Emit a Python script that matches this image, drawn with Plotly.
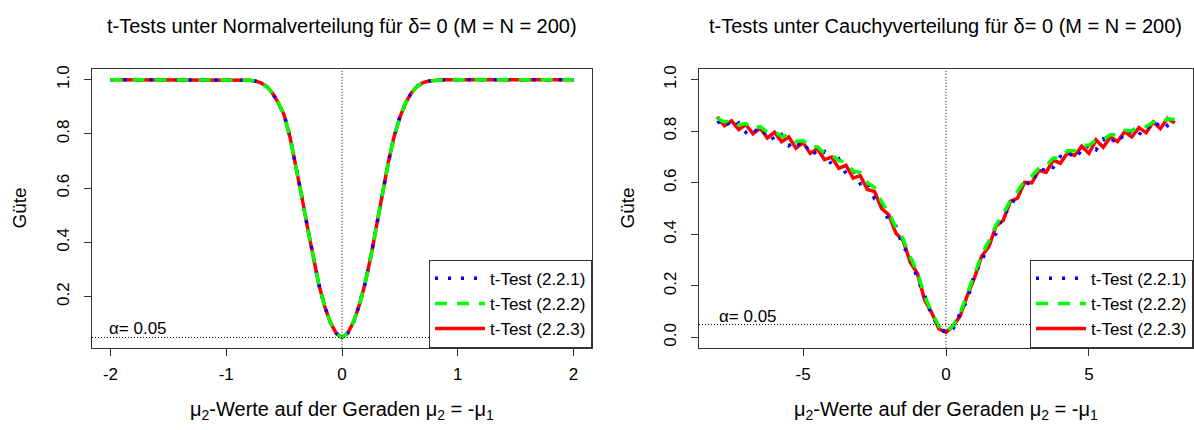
import numpy as np
import plotly.graph_objects as go

# ---------------- data ----------------
# left panel: normal distribution, x grid of mu2 values
x_norm = np.round(np.linspace(-2.0, 2.0, 81), 2)
power_norm = ([1.0] * 23 +
              [0.999, 0.998, 0.995, 0.988, 0.975, 0.950, 0.915, 0.870, 0.790,
               0.690, 0.575, 0.460, 0.345, 0.245, 0.165, 0.105, 0.065,
               0.050,
               0.066, 0.108, 0.170, 0.250, 0.350, 0.465, 0.585, 0.695, 0.790,
               0.862, 0.915, 0.952, 0.976, 0.989, 0.995, 0.998, 0.999] +
              [1.0] * 23)
norm_221 = power_norm
norm_222 = power_norm
norm_223 = power_norm

# right panel: Cauchy distribution
x_cauchy = np.round(np.linspace(-8.0, 8.0, 65), 2)
cauchy_223 = [0.856, 0.822, 0.840, 0.806, 0.826, 0.790, 0.812, 0.774, 0.796, 0.760,
              0.778, 0.734, 0.756, 0.714, 0.732, 0.690, 0.700, 0.656, 0.668, 0.618,
              0.628, 0.574, 0.566, 0.500, 0.476, 0.404, 0.376, 0.292, 0.248, 0.146,
              0.096, 0.034, 0.020,
              0.044, 0.084, 0.164, 0.232, 0.316, 0.352, 0.432, 0.454, 0.528, 0.540,
              0.602, 0.600, 0.648, 0.640, 0.688, 0.676, 0.716, 0.706, 0.742, 0.714,
              0.766, 0.738, 0.778, 0.760, 0.798, 0.778, 0.814, 0.794, 0.836, 0.810,
              0.850, 0.832]
cauchy_221 = [0.832, 0.848, 0.812, 0.832, 0.796, 0.816, 0.780, 0.802, 0.764, 0.786,
              0.744, 0.766, 0.724, 0.746, 0.700, 0.720, 0.670, 0.692, 0.636, 0.652,
              0.596, 0.608, 0.538, 0.530, 0.448, 0.432, 0.350, 0.318, 0.226, 0.166,
              0.082, 0.046, 0.016,
              0.034, 0.096, 0.144, 0.250, 0.290, 0.378, 0.402, 0.480, 0.498, 0.570,
              0.572, 0.630, 0.620, 0.670, 0.660, 0.702, 0.692, 0.730, 0.708, 0.750,
              0.728, 0.770, 0.748, 0.788, 0.768, 0.806, 0.786, 0.822, 0.804, 0.842,
              0.822, 0.852]
cauchy_222 = [0.850, 0.836, 0.842, 0.824, 0.830, 0.810, 0.818, 0.796, 0.800, 0.780,
              0.784, 0.760, 0.764, 0.740, 0.740, 0.714, 0.708, 0.686, 0.680, 0.646,
              0.640, 0.600, 0.582, 0.526, 0.484, 0.426, 0.382, 0.312, 0.254, 0.162,
              0.098, 0.044, 0.022,
              0.046, 0.096, 0.170, 0.246, 0.322, 0.374, 0.436, 0.478, 0.532, 0.566,
              0.608, 0.626, 0.656, 0.666, 0.696, 0.696, 0.724, 0.724, 0.746, 0.746,
              0.766, 0.768, 0.786, 0.786, 0.804, 0.802, 0.820, 0.818, 0.836, 0.832,
              0.848, 0.846]

labels = ["t-Test (2.2.1)", "t-Test (2.2.2)", "t-Test (2.2.3)"]
alpha = 0.05
titles = ["t-Tests unter Normalverteilung für δ= 0 (M = N = 200)",
          "t-Tests unter Cauchyverteilung für δ= 0 (M = N = 200)"]
xlabel = "μ<sub>2</sub>-Werte auf der Geraden μ<sub>2</sub> = -μ<sub>1</sub>"
ylabel = "Güte"
xticks_left = [-2, -1, 0, 1, 2]
xticks_right = [-5, 0, 5]
yticks_left = [0.2, 0.4, 0.6, 0.8, 1.0]
yticks_right = [0.0, 0.2, 0.4, 0.6, 0.8, 1.0]

# ---------------- styling ----------------
FONT = "Liberation Sans, Arial, sans-serif"
W, H = 1194, 430
BLUE, GREEN, RED = "#0000FF", "#00FF00", "#FF0000"
AX = "#333333"
LW = 3.5

fig = go.Figure()

def add_panel(x, y221, y222, y223, xa, ya, legend):
    # draw order: red (solid) first, blue dotted, green dashed on top
    fig.add_trace(go.Scatter(x=x, y=y223, mode="lines", name=labels[2],
                             line=dict(color=RED, width=LW), legendrank=3,
                             xaxis=xa, yaxis=ya, legend=legend))
    fig.add_trace(go.Scatter(x=x, y=y221, mode="lines", name=labels[0],
                             line=dict(color=BLUE, width=LW, dash="3px,10px"), legendrank=1,
                             xaxis=xa, yaxis=ya, legend=legend))
    fig.add_trace(go.Scatter(x=x, y=y222, mode="lines", name=labels[1],
                             line=dict(color=GREEN, width=LW, dash="12px,10px"), legendrank=2,
                             xaxis=xa, yaxis=ya, legend=legend))

add_panel(x_norm, norm_221, norm_222, norm_223, "x", "y", "legend")
add_panel(x_cauchy, cauchy_221, cauchy_222, cauchy_223, "x2", "y2", "legend2")

L1, R1 = 92, 592
L2, R2 = 699, 1193
T, B = 66, 347

common_x = dict(showline=True, mirror=True, linecolor=AX, linewidth=1,
                ticks="outside", ticklen=7, tickcolor=AX, showgrid=False, zeroline=False,
                tickfont=dict(family=FONT, size=17, color="black"), ticklabelstandoff=4)
common_y = dict(showline=True, mirror=True, linecolor=AX, linewidth=1,
                ticks="outside", ticklen=7, tickcolor=AX, showgrid=False, zeroline=False,
                tickangle=-90,
                tickfont=dict(family=FONT, size=17, color="black"), ticklabelstandoff=8)

legend_style = dict(bgcolor="white", bordercolor=AX, borderwidth=1,
                    font=dict(family=FONT, size=17, color="black"),
                    xanchor="right", yanchor="bottom", tracegroupgap=0, itemwidth=50)

fig.update_layout(
    width=W, height=H, margin=dict(l=0, r=0, t=0, b=0),
    paper_bgcolor="white", plot_bgcolor="white",
    font=dict(family=FONT, color="black"),
    xaxis=dict(domain=[L1 / W, R1 / W], range=[-2.16, 2.16],
               tickvals=xticks_left, ticktext=[str(v) for v in xticks_left],
               anchor="y", **common_x),
    yaxis=dict(domain=[(H - B) / H, (H - T) / H], range=[0.012, 1.038],
               tickvals=yticks_left, ticktext=[f"{v:.1f}" for v in yticks_left],
               anchor="x", **common_y),
    xaxis2=dict(domain=[L2 / W, R2 / W], range=[-8.64, 8.64],
                tickvals=xticks_right, ticktext=[str(v) for v in xticks_right],
                anchor="y2", **common_x),
    yaxis2=dict(domain=[(H - B) / H, (H - T) / H], range=[-0.04, 1.04],
                tickvals=yticks_right, ticktext=[f"{v:.1f}" for v in yticks_right],
                anchor="x2", **common_y),
    legend=dict(x=R1 / W, y=(H - B) / H, **legend_style),
    legend2=dict(x=R2 / W, y=(H - B) / H, **legend_style),
    showlegend=True,
)

# reference lines
for xa, ya in (("x", "y"), ("x2", "y2")):
    fig.add_shape(type="line", xref=xa, yref=f"{ya} domain", x0=0, x1=0, y0=0, y1=1,
                  line=dict(color="black", width=1, dash="1px,2px"))
    fig.add_shape(type="line", xref=f"{xa} domain", yref=ya, x0=0, x1=1, y0=alpha, y1=alpha,
                  line=dict(color="black", width=1, dash="1px,2px"))

# alpha labels
fig.add_annotation(x=-2.0, y=alpha, xref="x", yref="y", text="α= 0.05", showarrow=False,
                   xanchor="left", yanchor="bottom", xshift=-4, yshift=-3,
                   font=dict(family=FONT, size=17, color="black"))
fig.add_annotation(x=-8.0, y=alpha, xref="x2", yref="y2", text="α= 0.05", showarrow=False,
                   xanchor="left", yanchor="bottom", xshift=0, yshift=-3,
                   font=dict(family=FONT, size=17, color="black"))

# titles and axis labels
for cx, ttl in (((L1 + R1) / 2, titles[0]), ((L2 + R2) / 2, titles[1])):
    fig.add_annotation(x=cx / W, y=(H - 22) / H, xref="paper", yref="paper", text=ttl,
                       showarrow=False, xanchor="center", yanchor="middle",
                       font=dict(family=FONT, size=20, color="black"))
    fig.add_annotation(x=cx / W, y=(H - 410) / H, xref="paper", yref="paper", text=xlabel,
                       showarrow=False, xanchor="center", yanchor="middle",
                       font=dict(family=FONT, size=20, color="black"))
for gx in (20, 628):
    fig.add_annotation(x=gx / W, y=(H - (T + B) / 2) / H, xref="paper", yref="paper",
                       text=ylabel, textangle=-90, showarrow=False,
                       xanchor="center", yanchor="middle",
                       font=dict(family=FONT, size=19, color="black"))

fig.write_html("out.html", config={"displayModeBar": False},
               post_script="document.body.style.margin='0px';")
